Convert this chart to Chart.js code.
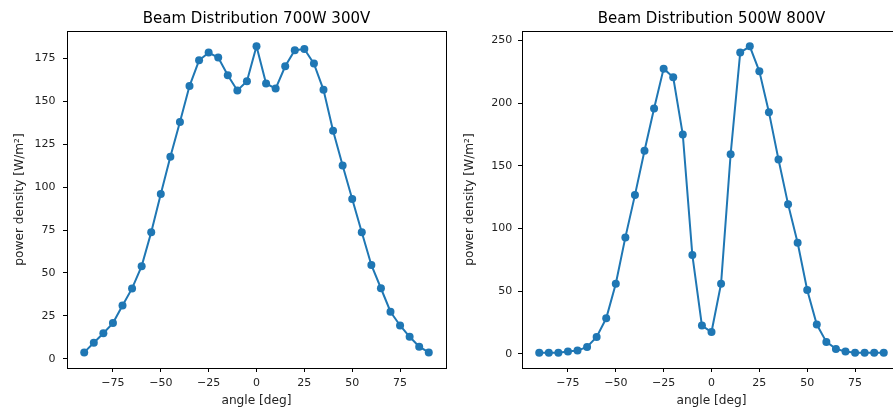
<!DOCTYPE html>
<html>
<head>
<meta charset="utf-8">
<script src="https://cdn.jsdelivr.net/npm/chart.js@4/dist/chart.umd.min.js"></script>
<style>
html, body { margin: 0; padding: 0; background: #fff; overflow: hidden; width: 893px; height: 407px; }
canvas { position: absolute; top: 0; }
#left { left: 0; }
#right { left: 460px; }
</style>
</head>
<body>
<canvas id="left" width="460" height="407"></canvas>
<canvas id="right" width="460" height="407"></canvas>
<script>
// datos
const angles = [-90, -85, -80, -75, -70, -65, -60, -55, -50, -45, -40, -35, -30, -25, -20, -15, -10, -5, 0,
                5, 10, 15, 20, 25, 30, 35, 40, 45, 50, 55, 60, 65, 70, 75, 80, 85, 90];
const power700 = [3.7, 9.3, 14.9, 20.8, 31, 41, 54, 73.7, 96, 117.8, 138, 159, 174, 178.5, 175.6, 165.3, 156.4, 161.8, 182.2,
                  160.5, 157.5, 170.5, 179.9, 180.6, 172.1, 156.8, 132.9, 112.7, 93.1, 73.7, 54.7, 41.1, 27.4, 19.4, 12.8, 7, 3.7];
const power500 = [1, 1, 1, 1.9, 2.7, 5.6, 13.5, 28.4, 56, 92.9, 126.6, 161.9, 195.6, 227.4, 220.5, 174.9, 78.8, 22.6, 17.5,
                  56, 159.2, 240.2, 245.2, 225.3, 192.7, 155, 119.4, 88.6, 51, 23.4, 9.6, 4, 1.9, 1, 1, 1, 1];
const xTicks = [-75, -50, -25, 0, 25, 50, 75];
const yTicks700 = [0, 25, 50, 75, 100, 125, 150, 175];
const yTicks500 = [0, 50, 100, 150, 200, 250];

const FONT = "'DejaVu Sans', sans-serif";
const BLUE = "#1f77b4";

// marco completo alrededor del area (como matplotlib)
const frame = {
    id: "frame",
    afterDatasetsDraw(chart) {
        const a = chart.chartArea;
        const ctx = chart.ctx;
        ctx.save();
        ctx.strokeStyle = "#000";
        ctx.lineWidth = 1;
        ctx.strokeRect(Math.floor(a.left) + 0.5, Math.floor(a.top) + 0.5,
                       Math.round(a.right - a.left), Math.round(a.bottom - a.top));
        ctx.restore();
    }
};

const minus = v => String(v).replace("-", "\u2212");

function makeChart(id, title, values, yTicks, yMin, yMax, yWidth, padRight, yTickPad, yTitlePad) {
    const ctx = document.getElementById(id).getContext("2d");
    return new Chart(ctx, {
        type: "line",
        data: {
            datasets: [{
                data: angles.map((a, i) => ({ x: a, y: values[i] })),
                borderColor: BLUE,
                backgroundColor: BLUE,
                borderWidth: 2,
                pointRadius: 4,
                pointBorderWidth: 0,
                pointHoverRadius: 4,
                tension: 0
            }]
        },
        options: {
            responsive: false,
            animation: false,
            devicePixelRatio: 1,
            events: [],
            layout: { padding: { left: 0, right: padRight, top: 0, bottom: 0 } },
            plugins: {
                legend: { display: false },
                tooltip: { enabled: false },
                title: {
                    display: true,
                    text: title,
                    fullSize: false,
                    color: "#000",
                    font: { family: FONT, size: 15, weight: "normal", lineHeight: 1.2 },
                    padding: { top: 10.5, bottom: 2.5 }
                }
            },
            scales: {
                x: {
                    type: "linear",
                    min: -99,
                    max: 99,
                    afterBuildTicks: s => { s.ticks = xTicks.map(v => ({ value: v })); },
                    afterFit: s => { s.height = 39; },
                    grid: { drawOnChartArea: false, tickLength: 4, color: "#000" },
                    border: { display: false },
                    ticks: { color: "#222", padding: 5, maxRotation: 0,
                             font: { family: FONT, size: 11 }, callback: v => minus(v) },
                    title: { display: true, text: "angle [deg]", color: "#222",
                             font: { family: FONT, size: 12.2, lineHeight: 1 }, padding: { top: 0, bottom: 0 } }
                },
                y: {
                    type: "linear",
                    min: yMin,
                    max: yMax,
                    afterBuildTicks: s => { s.ticks = yTicks.map(v => ({ value: v })); },
                    afterFit: s => { s.width = yWidth; },
                    grid: { drawOnChartArea: false, tickLength: 4, color: "#000" },
                    border: { display: false },
                    ticks: { color: "#222", padding: yTickPad,
                             font: { family: FONT, size: 11 }, callback: v => minus(v) },
                    title: { display: true, text: "power density [W/m²]", color: "#222",
                             font: { family: FONT, size: 12.2, lineHeight: 1.2 }, padding: { top: yTitlePad, bottom: 0 } }
                }
            }
        },
        plugins: [frame]
    });
}

makeChart("left", "Beam Distribution 700W 300V", power700, yTicks700, -5.4, 191.1, 67, 14, 7.5, 12.4);
makeChart("right", "Beam Distribution 500W 800V", power500, yTicks500, -11.2, 257.4, 62, 19, 5.7, 2.4);
</script>
</body>
</html>
